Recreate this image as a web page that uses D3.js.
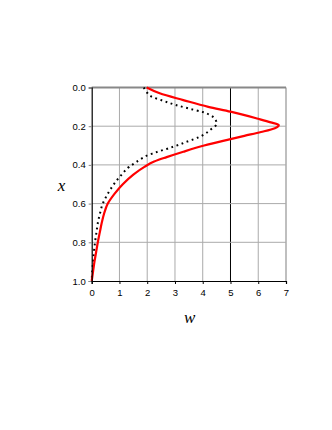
<!DOCTYPE html>
<html><head><meta charset="utf-8">
<script src="https://cdn.jsdelivr.net/npm/d3@7"></script>
<style>body{margin:0;background:#fff}svg{display:block}</style>
</head><body>
<script>
// data: position x (vertical axis) and value w (horizontal axis)
const redX = [0,0.03,0.065,0.1,0.125,0.16,0.18,0.195,0.21,0.23,0.25,0.267,0.3,0.332,0.36,0.383,0.41,0.45,0.5,0.55,0.6,0.65,0.7,0.75,0.8,0.85,0.9,0.95,1.0];
const redW = [1.98,2.45,3.3,4.2,5.0,5.95,6.45,6.74,6.6,6.1,5.5,5.0,4.05,3.3,2.7,2.25,1.9,1.5,1.12,0.82,0.58,0.45,0.36,0.29,0.22,0.16,0.1,0.05,0];
const dotX = [0,0.02,0.05,0.066,0.089,0.11,0.127,0.145,0.165,0.185,0.2,0.216,0.24,0.254,0.268,0.28,0.294,0.306,0.318,0.328,0.34,0.349,0.366,0.386,0.41,0.45,0.49,0.53,0.57,0.6,0.65,0.7,0.75,0.8,0.85,0.9,0.95,1.0];
const dotW = [1.88,1.96,2.2,2.52,3.0,3.54,4.0,4.3,4.45,4.5,4.45,4.3,4.08,3.9,3.67,3.43,3.18,2.94,2.7,2.46,2.22,2.04,1.81,1.6,1.35,1.08,0.85,0.66,0.5,0.4,0.3,0.22,0.17,0.12,0.08,0.05,0.02,0];
const wTicks = [0,1,2,3,4,5,6,7];
const xTicks = [0,0.2,0.4,0.6,0.8,1.0];
const xTickLabels = ["0.0","0.2","0.4","0.6","0.8","1.0"];

const W = 332, H = 430;
const svg = d3.select("body").append("svg").attr("width", W).attr("height", H);
const sx = d3.scaleLinear().domain([0,7]).range([91.7,286]);
const sy = d3.scaleLinear().domain([0,1]).range([87.5,281]);

// grid
const g = svg.append("g");
g.selectAll("line.vg").data(wTicks.filter(d=>d>0)).join("line")
  .attr("x1",d=>sx(d)).attr("x2",d=>sx(d)).attr("y1",sy(0)).attr("y2",sy(1))
  .attr("stroke",d=>d===5?"#000":"#aaa").attr("stroke-width",d=>d===7?1.5:1);
g.selectAll("line.hg").data(xTicks.filter(d=>d>0 && d<1)).join("line")
  .attr("x1",sx(0)).attr("x2",sx(7)).attr("y1",d=>sy(d)).attr("y2",d=>sy(d))
  .attr("stroke","#aaa").attr("stroke-width",1);
// top border
g.append("line").attr("x1",sx(0)).attr("x2",sx(7)).attr("y1",sy(0)).attr("y2",sy(0))
  .attr("stroke","#888").attr("stroke-width",2);

// curves
const lineGen = (xs, ws) => d3.line().curve(d3.curveMonotoneY)
  .x((d,i)=>sx(ws[i])).y((d,i)=>sy(xs[i]))(xs);
svg.append("path").attr("d", lineGen(dotX, dotW)).attr("fill","none")
  .attr("stroke","#000").attr("stroke-width",2).attr("stroke-dasharray","1.8,3.6");
svg.append("path").attr("d", lineGen(redX, redW)).attr("fill","none")
  .attr("stroke","#f00").attr("stroke-width",2.2);

// left axis
const yAxis = d3.axisLeft(sy).tickValues(xTicks).tickFormat((d,i)=>xTickLabels[i]).tickSize(3).tickPadding(3);
const ya = svg.append("g").attr("transform",`translate(${sx(0)},0)`).call(yAxis);
ya.select(".domain").attr("stroke","#000").attr("stroke-width",1.2);
ya.selectAll(".tick line").attr("stroke","#888");
ya.selectAll("text").attr("font-family","'Liberation Sans',Arial,sans-serif").attr("font-size","9.5px").attr("fill","#000");

// bottom axis
const xAxis = d3.axisBottom(sx).tickValues(wTicks).tickFormat(d3.format("d")).tickSize(3).tickPadding(5);
const xa = svg.append("g").attr("transform",`translate(0,${sy(1)})`).call(xAxis);
xa.select(".domain").attr("stroke","#000").attr("stroke-width",1.2);
xa.selectAll(".tick line").attr("stroke","#000");
xa.selectAll("text").attr("font-family","'Liberation Sans',Arial,sans-serif").attr("font-size","9.5px").attr("fill","#000");

// titles
svg.append("text").attr("x",61.5).attr("y",190.5).attr("text-anchor","middle")
  .attr("font-family","'Liberation Serif','Times New Roman',serif").attr("font-style","italic")
  .attr("font-size","17px").text("x");
svg.append("text").attr("x",189.7).attr("y",322.5).attr("text-anchor","middle")
  .attr("font-family","'Liberation Serif','Times New Roman',serif").attr("font-style","italic")
  .attr("font-size","17px").text("w");
</script>
</body></html>
